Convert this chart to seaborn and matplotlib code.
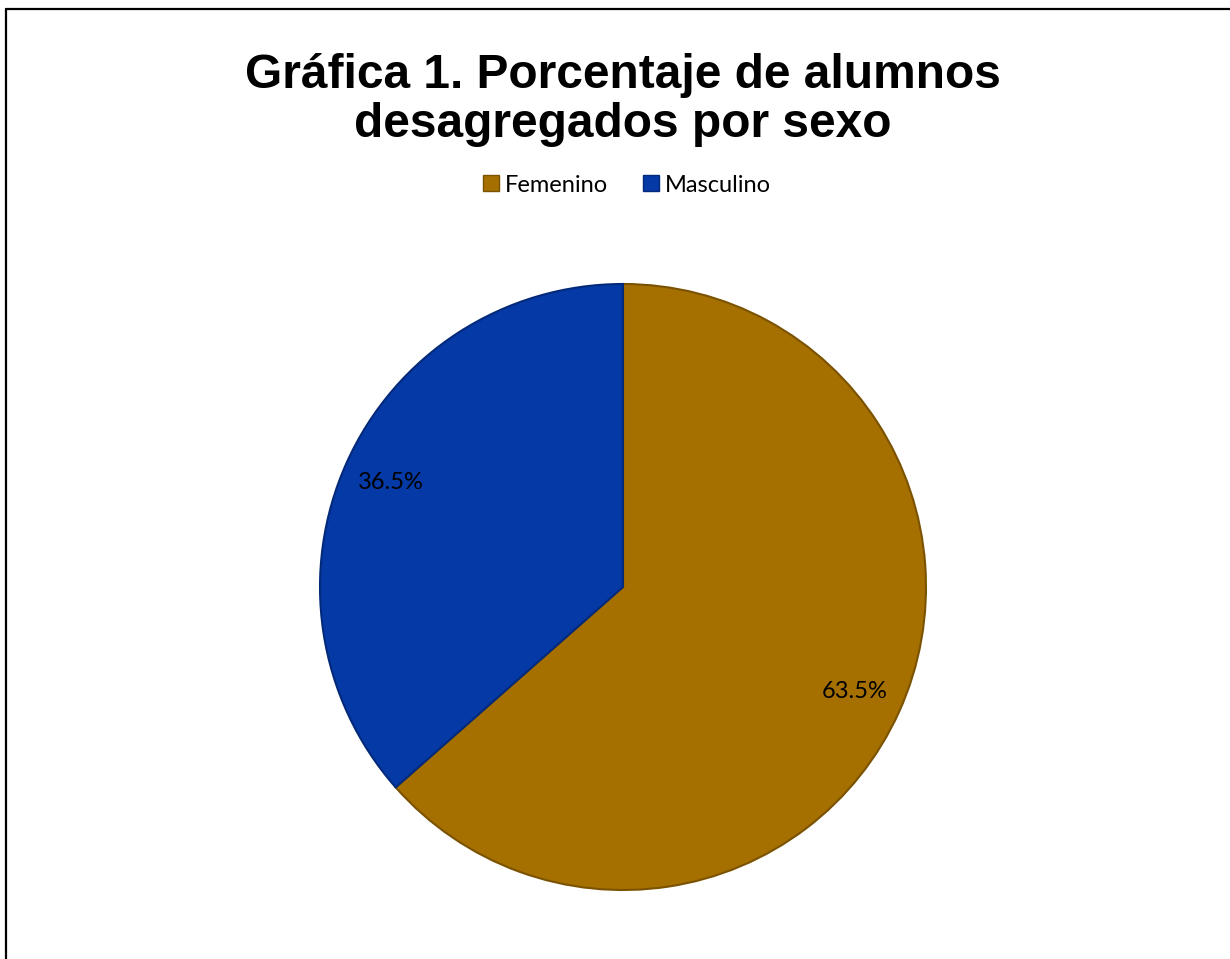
import matplotlib
matplotlib.use("Agg")
import matplotlib.pyplot as plt
from matplotlib.lines import Line2D
from matplotlib.patches import Patch
import seaborn as sns

# Chart data
categorias = ["Femenino", "Masculino"]
porcentajes = [63.5, 36.5]
colores = ["#A57000", "#0439A6"]
bordes = ["#7A5200", "#03297A"]
titulo = "Gráfica 1. Porcentaje de alumnos\ndesagregados por sexo"

sns.set_theme(style="white")
plt.rcParams["font.family"] = ["Liberation Sans", "DejaVu Sans"]
plt.rcParams["text.color"] = "black"

W, H = 1230, 959
fig = plt.figure(figsize=(W / 100, H / 100), dpi=100)
fig.patch.set_facecolor("white")

# Pie axes: centre (623, 587) px, radius 303 px
cx, cy, r = 623, 587, 303
ax = fig.add_axes([(cx - r) / W, (H - cy - r) / H, 2 * r / W, 2 * r / H])
ax.set_aspect("equal")

wedges, texts, autotexts = ax.pie(
    porcentajes,
    colors=colores,
    startangle=90,
    counterclock=False,
    autopct="%.1f%%",
    pctdistance=0.84,
    radius=1.0,
    wedgeprops=dict(linewidth=1.5),
    textprops=dict(fontsize=17, family=["Lato", "DejaVu Sans"], color="black"),
)
for w, ec in zip(wedges, bordes):
    w.set_edgecolor(ec)
ax.set_xlim(-1.0, 1.0)
ax.set_ylim(-1.0, 1.0)
ax.axis("off")

# Title
fig.text(cx / W, 1 - 100 / H, titulo, ha="center", va="center", color="black",
         fontsize=34.5, fontweight="bold", linespacing=1.13)

# Legend
handles = [Patch(facecolor=c, edgecolor=e, label=l)
           for c, e, l in zip(colores, bordes, categorias)]
fig.legend(handles=handles, loc="center", ncol=2, frameon=False,
           bbox_to_anchor=((cx + 4) / W, 1 - 185 / H),
           handlelength=0.65, handleheight=0.65, handletextpad=0.25,
           columnspacing=1.5, labelcolor="black",
           prop=dict(family=["Lato", "DejaVu Sans"], size=17))

# Chart frame (top and left edges)
fig.add_artist(Line2D([6 / W, 1.0], [1 - 9 / H, 1 - 9 / H],
                      transform=fig.transFigure, color="black", lw=1.6))
fig.add_artist(Line2D([6 / W, 6 / W], [0.0, 1 - 9 / H],
                      transform=fig.transFigure, color="black", lw=1.6))

fig.savefig("out.png", dpi=100, facecolor="white")
